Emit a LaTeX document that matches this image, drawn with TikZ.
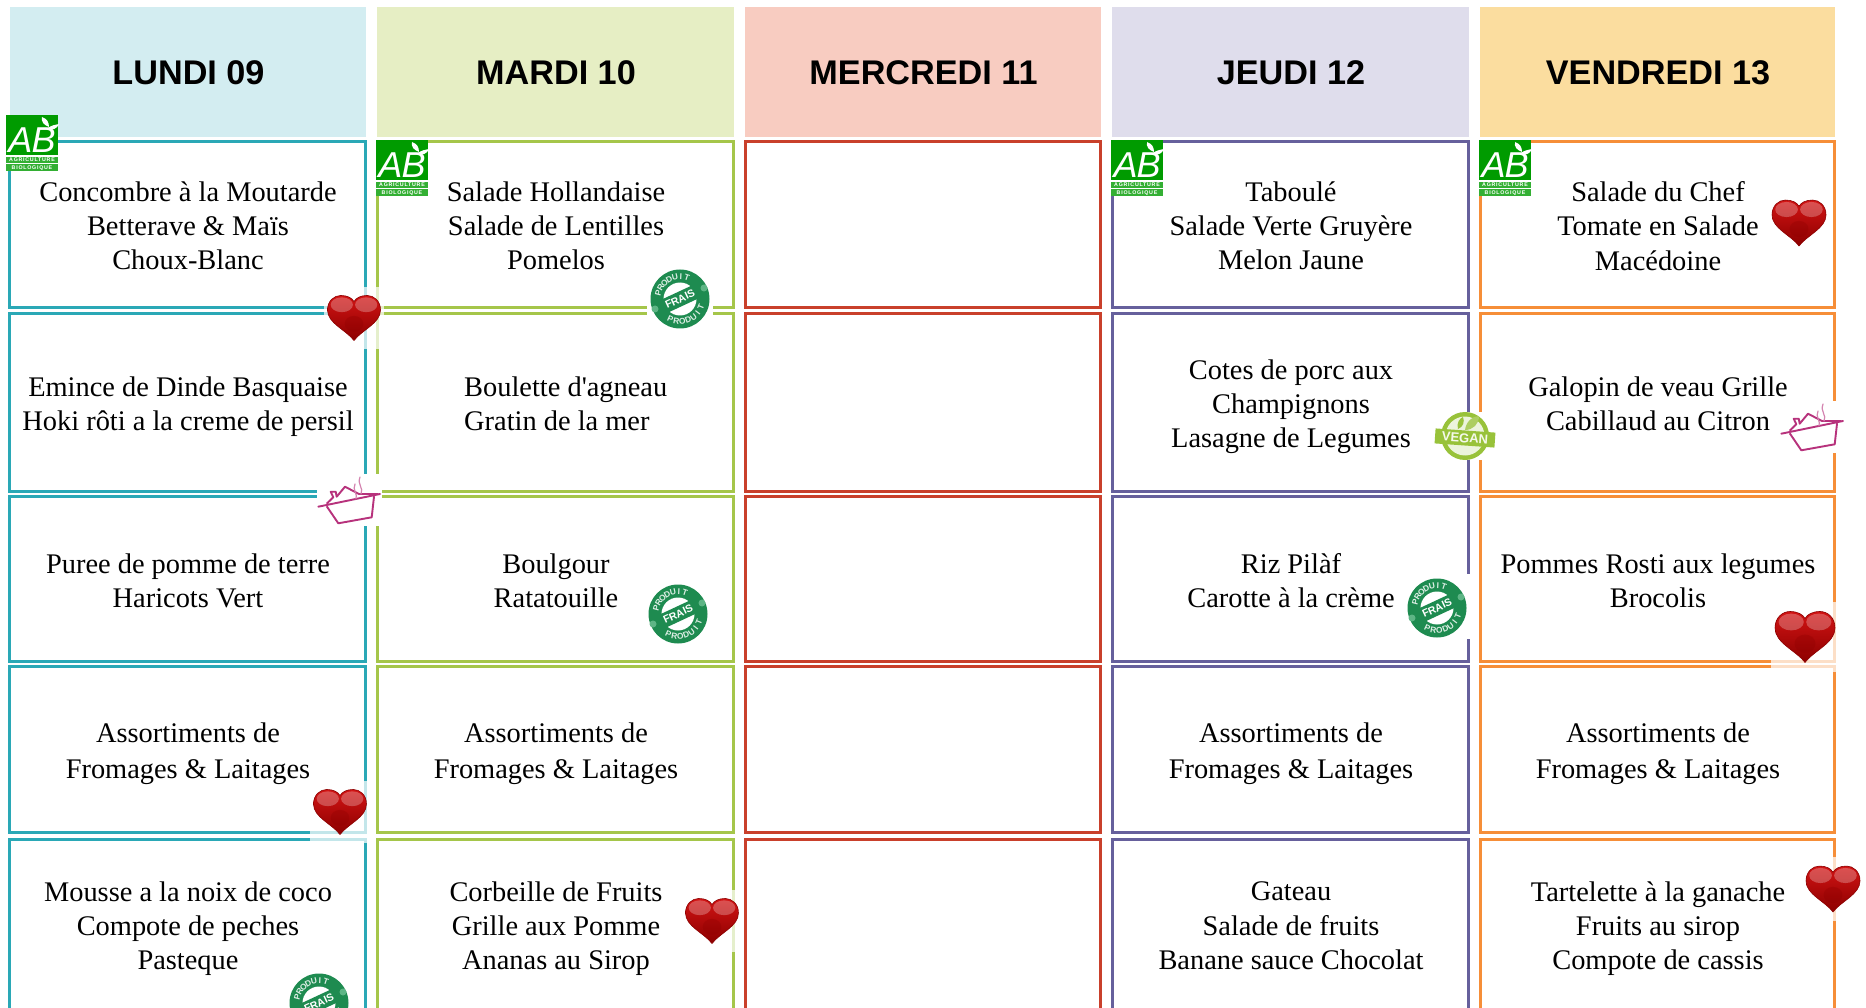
\documentclass[tikz,border=0pt]{standalone}
\usepackage{fontspec}
\setmainfont{Liberation Serif}
\newfontfamily\plainserif{Liberation Serif}
\newfontfamily\headfont{Liberation Sans}
\newfontfamily\abtiny[LetterSpace=14]{Liberation Sans}
\definecolor{cA}{HTML}{2AA8B6}\definecolor{cB}{HTML}{A5C64A}\definecolor{cC}{HTML}{C9402B}
\definecolor{cD}{HTML}{66609C}\definecolor{cE}{HTML}{F68E38}
\definecolor{hA}{HTML}{D3EDF1}\definecolor{hB}{HTML}{E6EEC4}\definecolor{hC}{HTML}{F8CCC1}
\definecolor{hD}{HTML}{DFDDEC}\definecolor{hE}{HTML}{FBDD9F}
\definecolor{abgreen}{HTML}{009B00}\definecolor{stampg}{HTML}{1E8B50}\definecolor{stampl}{HTML}{5DB585}
\definecolor{lime}{HTML}{98C23A}\definecolor{potc}{HTML}{B7327C}
\definecolor{D1}{HTML}{D21414}\definecolor{D2}{HTML}{C40404}\definecolor{D3}{HTML}{8C0000}
\tikzset{
 x=1pt,y=-1pt,
 dayhead/.style={fill=#1,minimum height=130pt,inner sep=0pt,
   font=\headfont\bfseries\fontsize{34.2}{40}\selectfont,text=black},
 daytext/.style={inner sep=0pt,font=\headfont\bfseries\fontsize{34.2}{40}\selectfont,text=black},
 cellbox/.style={draw=#1,line width=3pt,inner sep=0pt,fill=white},
 menubase/.style={inner sep=0pt,yshift=-4.8pt,text=black,execute at begin node={\strut},execute at end node={\strut}},
 menu/.style={menubase,align=center,font=\fontsize{28.4}{34.4}\selectfont},
 menuleft/.style={menubase,align=left,anchor=west,font=\fontsize{28.4}{34.4}\selectfont},
 menuwide/.style={menubase,align=center,font=\fontsize{28.4}{35.6}\selectfont},
 heart/.pic={
   \begin{scope}[scale=#1/2]
   \fill[white,opacity=.72] (-1.14,-1.17) rectangle (1.14,1.17);
   \shade[top color=D1,middle color=D2,bottom color=D3,draw=D3,line width=.6pt]
     (0,.85) .. controls (-.3,.45) and (-1,.2) .. (-1,-.3)
     .. controls (-1,-.65) and (-.75,-.85) .. (-.5,-.85)
     .. controls (-.25,-.85) and (-.08,-.76) .. (0,-.62)
     .. controls (.08,-.76) and (.25,-.85) .. (.5,-.85)
     .. controls (.75,-.85) and (1,-.65) .. (1,-.3)
     .. controls (1,.2) and (.3,.45) .. (0,.85) -- cycle;
   \fill[white,opacity=.26] (-.46,-.5) ellipse [x radius=.42,y radius=.28];
   \fill[white,opacity=.26] (.46,-.5) ellipse [x radius=.42,y radius=.28];
   \fill[D3,opacity=.3] (0,.22) ellipse [x radius=.35,y radius=.3];
   \end{scope}
 },
 potpic/.pic={
   \fill[white] (-32,-26) rectangle (33,26);
   \draw[potc,line width=1.9pt,line join=round,line cap=round]
     (-30.7,6.7) -- (31,-6)
     (-22,6.7) -- (-10.7,23.3) -- (22.7,17.3) -- (25,-3.3)
     (-22,3.3) -- (-15.7,-2.7) -- (-18.3,-8.3) -- (-13.3,-8.3) -- (-12.3,-3.3) -- (-4,-13.3) -- (10,-6) -- (29,-6);
   \draw[potc!60,line width=1.2pt,line cap=round]
     (6,-16) .. controls (3,-10) and (9,-6) .. (7,-1)
     (11,-23) .. controls (8,-15) and (15,-12) .. (12,-6);
 },
 abpic/.pic={
   \fill[white] (-26,-28) rectangle (26,28);
   \fill[abgreen] (-26,-28) rectangle (26,12);
   \fill[abgreen!80] (-26,14) rectangle (26,20);
   \fill[abgreen!80] (-26,21.5) rectangle (26,28);
   \node[text=white,inner sep=0pt,font=\headfont\itshape\fontsize{36}{36}\selectfont] (-l) at (0,-2.5) {A\kern-1ptB};
   \fill[white] (10,-26) .. controls (15,-24) and (17,-21) .. (17,-16) .. controls (12,-18) and (9,-21) .. (10,-26) -- cycle;
   \fill[white] (16,-15) .. controls (20,-18) and (23,-18) .. (27,-19) .. controls (25,-14) and (20,-12) .. (16,-15) -- cycle;
   \node[text=white,inner sep=0pt,font=\abtiny\bfseries\fontsize{5.3}{6}\selectfont] (-t) at (0,17) {AGRICULTURE};
   \node[text=white,inner sep=0pt,font=\abtiny\bfseries\fontsize{5.3}{6}\selectfont] (-u) at (0,24.8) {BIOLOGIQUE};
 },
 stamppic/.pic={
   \fill[white] (-33,-34) rectangle (33,31);
   \fill[stampg] (0,0) circle (29.5pt);
   \fill[white] (0,0) circle (16.5pt);
   \node[rotate=25,fill=stampg,minimum width=46pt,minimum height=14.5pt,inner sep=0pt,text=white,
     font=\headfont\bfseries\fontsize{10.5}{11}\selectfont] (-f) at (0,0) {FRAIS};
   \fill[stampl] (-25pt,-10pt) circle (3.5pt) (24pt,11pt) circle (3.5pt);
   \foreach \c [count=\i] in {P,R,O,D,U,I,T}
     \node[text=white!85!stampg,inner sep=0pt,rotate={(165-(\i-1)*15.5)-90},font=\headfont\bfseries\fontsize{8.4}{9}\selectfont]
       (-a\i) at ({165-(\i-1)*15.5}:22.5pt) {\c};
   \foreach \c [count=\i] in {P,R,O,D,U,I,T}
     \node[text=white!85!stampg,inner sep=0pt,rotate={(-115+(\i-1)*15.5)+90},font=\headfont\bfseries\fontsize{8.4}{9}\selectfont]
       (-b\i) at ({-115+(\i-1)*15.5}:22.5pt) {\c};
 },
 veganpic/.pic={
   \fill[white] (-30,-24) rectangle (30,24);
   \fill[lime] (0,0) circle (24pt);
   \fill[white!82!lime] (0,0) circle (19.5pt);
   \fill[lime] (-7pt,7pt) .. controls (-9pt,13pt) and (-5pt,18pt) .. (-2pt,19pt) .. controls (0pt,14pt) and (-2pt,9pt) .. (-7pt,7pt) -- cycle;
   \fill[lime!80!white] (0pt,6pt) .. controls (1pt,14pt) and (7pt,20pt) .. (14pt,20pt) .. controls (14pt,12pt) and (8pt,6pt) .. (0pt,6pt) -- cycle;
   \node[rotate=-4,fill=lime,minimum width=60pt,minimum height=15pt,inner sep=0pt,text=white!90!lime,
     font=\headfont\bfseries\fontsize{13}{14}\selectfont] (-v) at (0,2) {VEGAN};
 }
}
\begin{document}
\begin{tikzpicture}
\useasboundingbox (0,0) rectangle (1866,1008);
\clip (0,0) rectangle (1866,1008);
% day headers
\foreach \n/\xa/\xb/\col/\lab in {
   A/10/366/hA/LUNDI 09, B/377/734/hB/MARDI 10, C/745/1101/hC/MERCREDI 11,
   D/1112/1469/hD/JEUDI 12, E/1480/1835/hE/VENDREDI 13}
  {\node[dayhead=\col,minimum width={(\xb-\xa)*1pt}] (head\n) at ({(\xa+\xb)/2},72) {};
   \node[daytext] (lab\n) at ({(\xa+\xb)/2+.5},73.2) {\lab};}
% cells
\foreach \n/\xa/\xb/\col in {A/9.5/365.5/cA, B/377.5/733.5/cB, C/745.5/1100.5/cC, D/1112.5/1468.5/cD, E/1480.5/1834.5/cE}
  \foreach \r/\ya/\yb in {1/141.5/307.5, 2/313.5/491.5, 3/496.5/661.5, 4/666.5/832.5, 5/839.5/1040}
    \node[cellbox=\col,minimum width={(\xb-\xa)*1pt},minimum height={(\yb-\ya)*1pt}]
      (cell\n\r) at ({(\xa+\xb)/2},{(\ya+\yb)/2}) {};
% menu text
\node[menu] (tA1) at (188,226) {Concombre à la Moutarde\\Betterave \& Maïs\\Choux-Blanc};
\node[menu] (tA2) at (188,404) {Emince de Dinde Basquaise\\Hoki rôti a la creme de persil};
\node[menu] (tA3) at (188,581) {Puree de pomme de terre\\Haricots Vert};
\node[menuwide] (tA4) at (188,751) {Assortiments de\\Fromages \& Laitages};
\node[menu] (tA5) at (188,926) {Mousse a la noix de coco\\Compote de peches\\Pasteque};
\node[menu] (tB1) at (556,226) {Salade Hollandaise\\Salade de Lentilles\\Pomelos};
\node[menuleft] (tB2) at (464,404) {Boulette d{\plainserif'}agneau\\Gratin de la mer};
\node[menu] (tB3) at (556,581) {Boulgour\\Ratatouille};
\node[menuwide] (tB4) at (556,751) {Assortiments de\\Fromages \& Laitages};
\node[menu] (tB5) at (556,926) {Corbeille de Fruits\\Grille aux Pomme\\Ananas au Sirop};
\node[menu] (tD1) at (1291,226) {Taboulé\\Salade Verte Gruyère\\Melon Jaune};
\node[menu] (tD2) at (1291,404) {Cotes de porc aux\\Champignons\\Lasagne de Legumes};
\node[menu] (tD3) at (1291,581) {Riz Pilàf\\Carotte à la crème};
\node[menuwide] (tD4) at (1291,751) {Assortiments de\\Fromages \& Laitages};
\node[menu] (tD5) at (1291,926) {Gateau\\Salade de fruits\\Banane sauce Chocolat};
\node[menu] (tE1) at (1658,226) {Salade du Chef\\Tomate en Salade\\Macédoine};
\node[menu] (tE2) at (1658,404) {Galopin de veau Grille\\Cabillaud au Citron};
\node[menu] (tE3) at (1658,581) {Pommes Rosti aux legumes\\Brocolis};
\node[menuwide] (tE4) at (1658,751) {Assortiments de\\Fromages \& Laitages};
\node[menu] (tE5) at (1658,926) {Tartelette à la ganache\\Fruits au sirop\\Compote de cassis};
% labels
\pic (abA) at (32,143) {abpic};
\pic (abB) at (402,168) {abpic};
\pic (abD) at (1137,168) {abpic};
\pic (abE) at (1505,168) {abpic};
\pic (hA1) at (354,318) {heart=53};
\pic (hA4) at (340,812) {heart=53};
\pic (hB5) at (712,921) {heart=53};
\pic (hE1) at (1799,223) {heart=54};
\pic (hE3) at (1805,637) {heart=60};
\pic (hE5) at (1833,889) {heart=54};
\pic (potA) at (349,500) {potpic};
\pic (potE) at (1812,427) {potpic};
\pic (sB1) at (680,299) {stamppic};
\pic (sB3) at (678,614) {stamppic};
\pic (sD3) at (1437,608) {stamppic};
\pic (sA5) at (319,1003) {stamppic};
\pic (vD2) at (1465,436) {veganpic};
\end{tikzpicture}
\end{document}
